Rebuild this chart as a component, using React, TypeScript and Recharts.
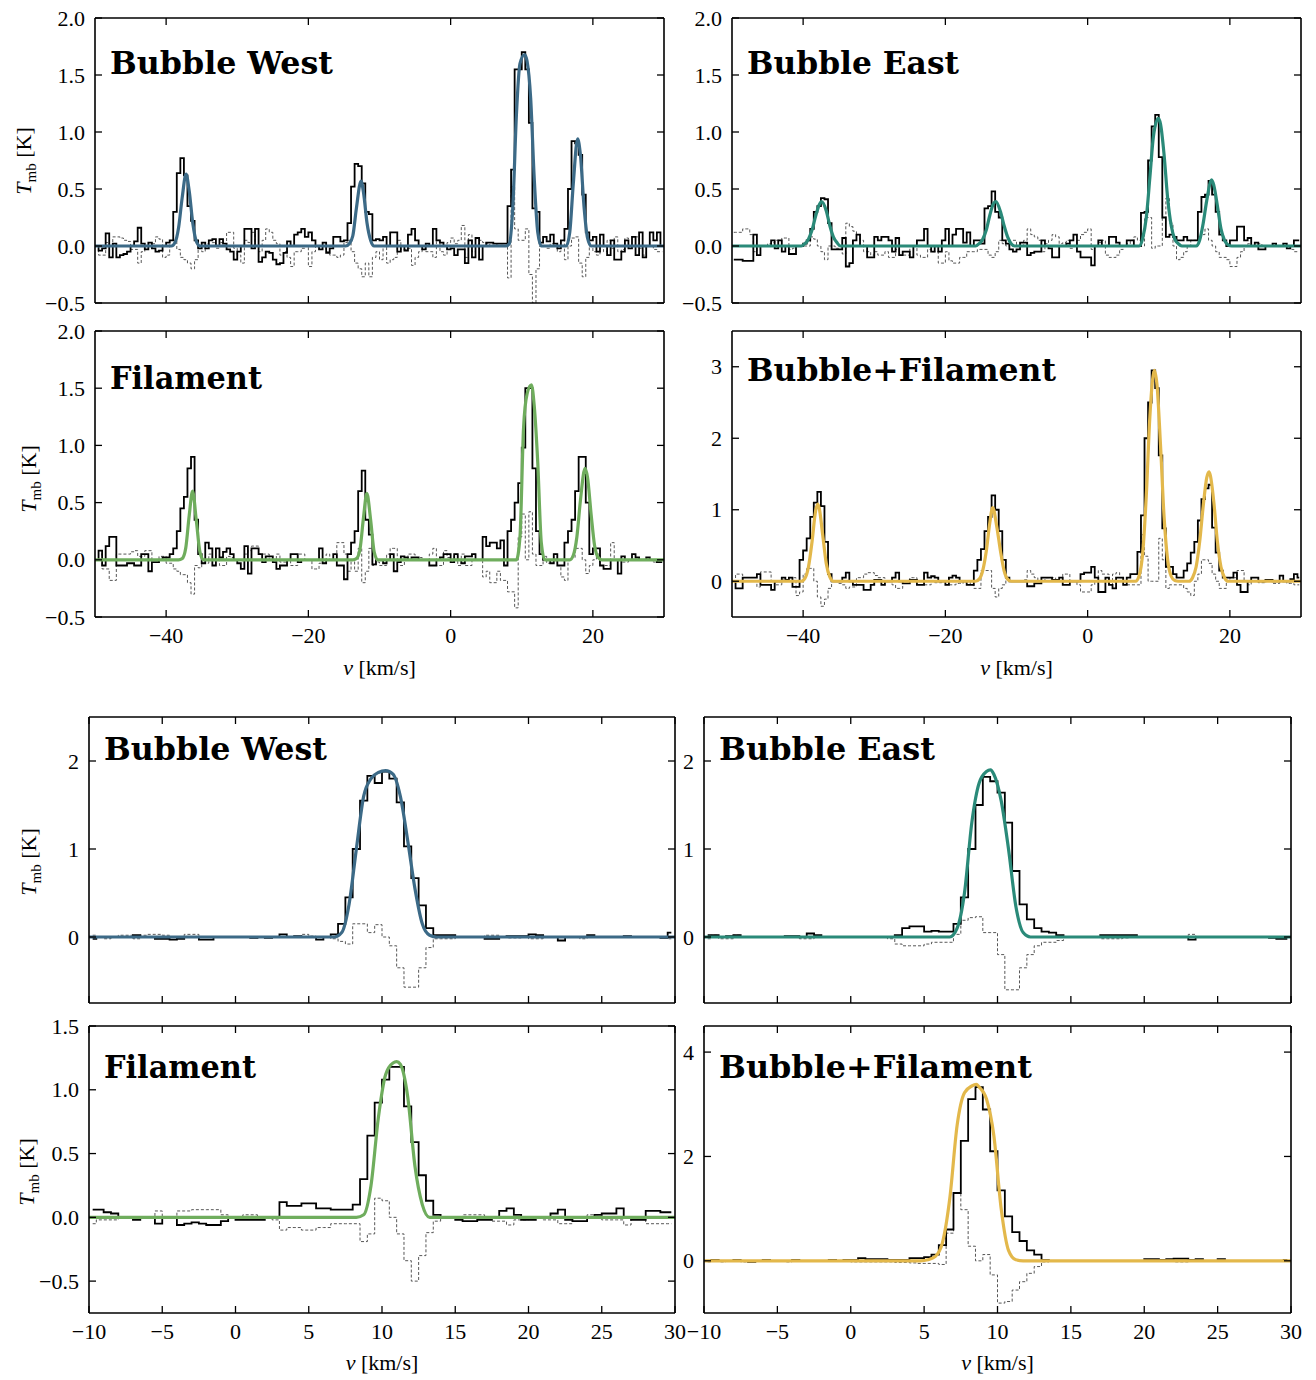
import React from "react";
import { LineChart, Line, XAxis, YAxis } from "recharts";

// channel grid, km/s
const CHAN = 0.5;
const WIDE_V0 = -49.75;
const NARROW_V0 = -9.75;

// ticks
const wideVTicks = [-40, -20, 0, 20];
const narrowVTicks = [-10, -5, 0, 5, 10, 15, 20, 25, 30];
const tmbTicksHalf = [-0.5, 0, 0.5, 1, 1.5, 2];
const tmbTicksBF = [0, 1, 2, 3];
const tmbTicksBubble = [0, 1, 2];
const tmbTicksFil = [-0.5, 0, 0.5, 1, 1.5];
const tmbTicksBFnarrow = [0, 2, 4];

// ---------- upper spectra (-50 .. 30 km/s) ----------
const westWideObs = [
  0, -0.04, -0.02, 0.11, -0.1, 0.02, -0.1, -0.08, -0.07, -0.05, 0, 0.04, 0.16, 0.02, -0.03, 0.03, -0.02, -0.05, -0.04, 0,
  0.03, 0.05, 0.3, 0.64, 0.77, 0.62, 0.35, 0.22, 0.05, -0.02, 0.03, -0.02, 0.05, 0.06, 0, 0.06, 0.02, -0.03, -0.05, -0.12,
  -0.05, 0, 0.15, 0.15, -0.02, 0.15, -0.14, -0.1, -0.05, -0.06, -0.12, -0.16, -0.15, -0.06, 0.04, 0, 0.1, 0.12, 0.15, 0.08,
  0.12, 0.05, 0, -0.03, 0.03, -0.06, -0.02, 0.08, 0.08, 0.04, 0.05, 0.2, 0.52, 0.72, 0.7, 0.55, 0.3, 0.28, 0.05, 0.06,
  0.05, 0.08, 0, 0.12, 0.12, -0.05, 0, -0.04, 0.1, 0.15, 0.05, 0, -0.03, 0.02, 0, 0.15, 0.05, 0.03, 0, -0.03,
  -0.02, -0.08, -0.03, -0.03, -0.15, 0.05, -0.1, 0.07, -0.12, 0, 0.03, 0.03, 0.02, 0.02, 0.02, 0.02, 0.35, 0.67, 1.55, 1.55,
  1.7, 1.55, 1.08, 0.33, 0.3, 0.03, 0.08, 0.04, 0.1, 0.02, -0.02, 0.05, 0.15, 0.5, 0.92, 0.9, 0.8, 0.45, 0.12, 0.05,
  0.08, -0.05, 0.1, 0, -0.08, 0.05, -0.12, -0.12, -0.05, 0.05, -0.02, 0.08, -0.08, 0.12, -0.1, 0, 0.12, 0.05, 0.12, 0,
];
const westWideRes = [
  0, -0.08, -0.08, 0.03, 0, 0.08, 0.08, 0.07, 0.05, 0.04, -0.03, -0.03, -0.15, -0.05, 0, 0, 0.02, 0.08, 0.06, -0.1,
  -0.08, 0.05, 0.05, -0.03, -0.1, -0.12, -0.15, -0.2, -0.12, 0, -0.05, 0.02, 0, 0.03, -0.02, 0.03, 0.02, 0.12, 0.12, -0.02,
  -0.08, -0.15, 0.05, 0.03, 0.12, 0, -0.05, 0.05, 0.15, 0.12, 0.05, 0.02, -0.08, -0.05, -0.1, -0.18, -0.05, -0.05, -0.02, 0,
  -0.18, -0.05, 0, -0.03, 0, -0.05, -0.08, -0.08, -0.1, -0.08, 0.03, 0.05, -0.05, -0.15, -0.2, -0.27, -0.15, -0.27, -0.1, -0.05,
  -0.12, 0, -0.15, -0.12, -0.1, 0.05, -0.03, -0.03, -0.02, -0.17, -0.1, -0.05, 0, -0.05, -0.05, -0.1, 0.05, -0.05, -0.08, 0.03,
  0.07, 0.02, 0.05, 0.18, -0.1, 0.1, -0.05, 0, 0.05, 0.03, 0.02, 0, 0, 0.02, 0.02, 0, -0.28, 0.52, 0.15, 0.05,
  0.05, 0.15, -0.25, -0.5, -0.2, 0, 0, -0.02, 0.02, 0, -0.05, 0.05, -0.12, 0, 0.07, 0.08, -0.15, -0.27, -0.1, 0,
  -0.05, -0.08, 0, -0.05, 0.05, -0.02, 0.08, -0.05, -0.03, 0.07, -0.02, 0, 0.08, -0.02, -0.08, 0, 0, -0.03, -0.05, -0.05,
];
const westWideFit = [
  [-50, 0], [-39.25, 0], [-38.75, 0.03], [-38.25, 0.16], [-37.75, 0.42], [-37.2, 0.63], [-36.75, 0.48], [-36.25, 0.2], [-35.75, 0.04], [-35.25, 0],
  [-14.75, 0], [-14.25, 0.02], [-13.75, 0.09], [-13.25, 0.33], [-12.6, 0.57], [-12.25, 0.47], [-11.75, 0.2], [-11.25, 0.05], [-10.75, 0],
  [7.75, 0], [8.25, 0.02], [8.75, 0.35], [9.25, 1.15], [9.75, 1.6], [10.4, 1.68], [10.75, 1.62], [11.25, 1.3], [11.75, 0.6], [12.25, 0.12], [12.75, 0],
  [16.25, 0], [16.75, 0.12], [17.25, 0.55], [17.85, 0.94], [18.25, 0.8], [18.75, 0.35], [19.25, 0.07], [19.75, 0], [30, 0],
];

const eastWideObs = [
  -0.12, -0.12, -0.12, -0.13, -0.13, -0.13, 0.1, -0.08, 0, 0, 0, 0.05, -0.02, 0.05, -0.05, 0, -0.07, -0.07, 0, 0,
  0.02, 0.05, 0.15, 0.3, 0.35, 0.42, 0.41, 0.2, -0.03, -0.03, -0.03, 0.07, -0.18, -0.15, 0.05, 0.1, 0, 0, -0.1, -0.1,
  0.08, 0.05, 0.08, 0.08, 0.05, -0.05, 0.07, -0.08, -0.05, -0.05, -0.1, 0, 0.05, 0.05, 0.15, 0, -0.05, 0, -0.05, 0.05,
  0.15, 0, 0.1, 0.15, 0.15, 0.03, 0.12, 0, 0.05, 0.05, 0.02, 0.33, 0.35, 0.48, 0.3, 0.25, 0.05, 0.02, -0.03, -0.05,
  -0.03, 0.03, 0.03, -0.08, -0.06, -0.05, -0.05, 0.05, 0, -0.02, -0.1, -0.1, 0, 0, 0.02, 0.05, 0.1, -0.05, -0.1, -0.1,
  -0.1, -0.17, 0, 0.05, 0, 0, 0.08, 0.08, 0.03, 0, 0, 0.05, 0.05, 0, 0, 0.29, 0.3, 0.75, 1.05, 1.15,
  0.78, 0.25, 0.08, 0.1, 0.08, 0.05, 0.05, 0.08, 0.05, 0.05, 0.05, 0.3, 0.43, 0.45, 0.57, 0.45, 0.3, 0.1, 0.05, 0,
  0.05, 0.05, 0.17, 0.17, 0.05, 0.07, 0, 0.03, -0.03, -0.03, 0, 0, 0.02, 0, 0, 0.02, -0.02, 0, 0.05, 0.05,
];
const eastWideRes = [
  0.12, 0.12, 0.12, 0.15, 0.15, 0.1, -0.05, 0, 0, 0, 0.02, 0.03, 0.05, 0.05, 0.07, 0.07, -0.03, -0.02, 0, 0,
  0, 0, 0.08, 0.06, 0, -0.05, -0.12, 0, 0, -0.02, -0.03, -0.07, 0.2, 0.17, 0.13, 0.1, 0.05, -0.05, -0.05, -0.08,
  -0.05, -0.08, -0.08, -0.05, -0.1, -0.1, -0.03, -0.08, -0.08, -0.08, 0, 0, -0.08, -0.1, -0.1, -0.03, -0.05, -0.05, -0.15, -0.15,
  -0.05, -0.13, -0.15, -0.15, -0.1, -0.1, -0.05, -0.05, -0.05, -0.03, -0.03, -0.03, -0.08, -0.1, -0.05, 0.05, 0.02, 0, 0.05, 0.05,
  0, 0, 0.05, 0.15, 0.1, 0.08, 0.05, -0.05, 0.02, 0.05, 0.1, 0.08, 0.02, 0.03, 0.05, -0.02, 0, 0.05, 0.1, 0.12,
  0.15, -0.03, 0, 0.03, 0.05, -0.08, -0.1, -0.1, -0.08, -0.03, 0, 0.02, 0.05, 0.08, 0.05, 0, 0.25, 0.25, -0.02, 0,
  0, 0.25, 0.42, 0.2, 0, -0.12, -0.1, -0.05, 0, 0.05, 0.05, 0.08, 0.1, 0.15, 0.05, 0, -0.05, -0.1, -0.1, -0.12,
  -0.18, -0.18, -0.1, -0.05, 0, 0.02, 0, 0, 0.02, 0, 0, 0, 0, 0, 0, 0, 0, -0.03, -0.05, -0.05,
];
const eastWideFit = [
  [-50, 0], [-40.25, 0], [-39.75, 0.02], [-39.25, 0.06], [-38.75, 0.14], [-38.25, 0.26], [-37.75, 0.36], [-37.4, 0.39], [-36.75, 0.31], [-36.25, 0.18], [-35.75, 0.08], [-35.25, 0.03], [-34.75, 0],
  [-15.75, 0], [-15.25, 0.02], [-14.75, 0.06], [-14.25, 0.14], [-13.75, 0.27], [-13.25, 0.37], [-12.9, 0.39], [-12.25, 0.3], [-11.75, 0.18], [-11.25, 0.08], [-10.75, 0.02], [-10.25, 0],
  [7.25, 0], [7.75, 0.07], [8.25, 0.25], [8.75, 0.6], [9.25, 0.96], [9.94, 1.12], [10.25, 1.07], [10.75, 0.8], [11.25, 0.42], [11.75, 0.18], [12.25, 0.06], [12.75, 0.02], [13.25, 0],
  [15.25, 0], [15.75, 0.05], [16.25, 0.2], [16.75, 0.4], [17.44, 0.58], [17.75, 0.53], [18.25, 0.35], [18.75, 0.15], [19.25, 0.05], [19.75, 0.01], [20.25, 0], [30, 0],
];

const filWideObs = [
  0, 0.08, -0.05, 0.12, 0.2, 0.2, -0.05, -0.05, -0.05, -0.03, -0.03, -0.05, -0.05, 0.05, 0.05, -0.1, -0.02, -0.02, 0, 0.02,
  0.02, 0.05, 0.1, 0.25, 0.45, 0.55, 0.8, 0.9, 0.35, 0.05, -0.03, 0.15, 0.1, -0.05, 0.1, 0.02, 0.07, 0.1, 0.05, 0,
  -0.03, -0.08, 0.12, -0.12, 0.1, 0.1, 0.05, -0.02, 0.03, 0.03, -0.02, -0.08, -0.05, -0.05, 0, 0.05, 0.05, -0.02, 0, 0,
  0, 0, 0, 0.1, -0.03, 0, 0, 0.05, -0.05, -0.05, -0.17, 0.05, 0.15, 0.25, 0.6, 0.78, 0.35, 0.22, -0.04, 0,
  0, -0.03, 0, 0.05, -0.1, -0.02, 0.03, 0.02, 0, 0.02, 0.02, 0, 0, 0, -0.05, -0.05, 0, 0.02, 0.05, 0.05,
  -0.02, 0.05, 0, -0.03, 0.03, 0.03, 0.05, 0, 0, 0.2, 0.12, 0.15, 0.15, 0.1, 0.17, -0.05, 0.25, 0.35, 0.5, 0.67,
  0.98, 1.5, 1.5, 0.8, 0.25, 0.05, 0, 0, -0.03, 0.05, -0.05, -0.05, 0.15, 0.25, 0.35, 0.6, 0.9, 0.9, 0.5, 0.05,
  0.1, 0.1, -0.05, -0.08, -0.08, 0, 0, -0.12, 0.03, 0, 0, 0.05, 0.02, 0, 0, 0.02, 0, 0, -0.02, -0.02,
];
const filWideRes = [
  0, 0.05, -0.08, -0.08, -0.18, -0.18, 0.05, 0.05, 0.05, 0.05, 0.07, 0.08, 0.03, 0.03, 0.08, 0.08, 0, 0, 0.03, 0.03,
  -0.03, -0.03, -0.08, -0.1, -0.13, -0.13, -0.2, -0.3, -0.05, -0.07, -0.03, -0.03, 0.05, 0, 0, -0.05, -0.05, 0.03, 0.02, 0,
  0, 0, 0.05, 0.08, 0.12, 0.12, 0.05, 0.05, 0.05, 0, 0, 0.05, -0.02, -0.02, 0, -0.05, -0.05, 0.05, 0.05, 0,
  0, -0.08, -0.08, -0.03, -0.03, 0.05, 0, 0, 0.15, 0.15, 0.05, -0.1, 0, -0.1, 0.1, -0.2, -0.1, 0.1, -0.05, -0.02,
  -0.05, -0.05, 0.05, 0.1, 0.1, -0.05, -0.05, 0, 0.05, 0.05, 0.02, 0.02, 0, 0, 0.05, 0.1, -0.05, -0.05, 0.08, 0.02,
  0, 0.05, -0.05, 0.05, -0.05, -0.05, 0.05, 0, 0, -0.15, -0.1, -0.2, -0.2, -0.1, -0.18, -0.18, -0.28, -0.28, -0.42, 0.2,
  0.4, 0, 0.42, 0.05, -0.05, -0.05, 0.03, -0.03, -0.03, 0.05, -0.05, -0.15, -0.18, 0, 0.02, 0.1, 0.1, 0, -0.12, -0.05,
  0, 0.05, -0.05, -0.05, -0.05, 0.15, 0, 0, -0.02, -0.02, 0, 0, 0, 0, 0, 0, 0, -0.02, -0.02, -0.02,
];
const filWideFit = [
  [-50, 0], [-38.25, 0], [-37.75, 0.01], [-37.25, 0.1], [-36.75, 0.39], [-36.28, 0.6], [-35.75, 0.34], [-35.25, 0.07], [-34.75, 0],
  [-13.75, 0], [-13.25, 0.01], [-12.75, 0.09], [-12.25, 0.37], [-11.78, 0.58], [-11.25, 0.35], [-10.75, 0.07], [-10.25, 0],
  [9.25, 0], [9.75, 0.2], [10.25, 1.15], [10.75, 1.45], [11.36, 1.53], [11.75, 1.35], [12.25, 0.85], [12.75, 0.15], [13.25, 0],
  [16.75, 0], [17.25, 0.04], [17.75, 0.2], [18.25, 0.52], [18.9, 0.8], [19.25, 0.72], [19.75, 0.4], [20.25, 0.12], [20.75, 0.02], [21.25, 0], [30, 0],
];

const bfWideObs = [
  0, -0.1, -0.1, 0.05, 0.05, 0.05, 0.05, 0.1, -0.05, -0.05, -0.05, -0.12, 0, 0, 0.05, 0.02, 0.05, -0.08, -0.08, 0.3,
  0.43, 0.6, 0.9, 1.1, 1.25, 1.05, 0.55, 0.1, 0, 0, 0, 0.05, 0.12, 0, -0.05, -0.05, -0.05, -0.12, -0.12, -0.05,
  0.02, 0.02, -0.05, 0, 0, 0.05, 0.12, 0, -0.03, -0.03, 0.02, 0.02, -0.05, -0.05, 0.12, 0.05, 0.07, 0.05, 0, 0,
  -0.05, 0.05, 0.08, 0.05, 0, 0, -0.05, -0.05, 0.15, 0.3, 0.45, 0.7, 0.9, 1.2, 1.0, 0.7, 0.3, 0.05, 0, 0,
  0, 0, 0, -0.07, -0.07, -0.03, -0.03, 0.05, 0.05, 0.05, 0.02, 0.02, 0.05, -0.05, -0.05, 0, 0, 0, 0.1, 0.12,
  0.12, 0.2, 0.05, -0.15, -0.15, 0.05, -0.05, -0.1, 0.05, 0.05, -0.05, 0.05, 0.1, 0.1, 0.41, 0.92, 2.0, 2.5, 2.95, 2.7,
  1.76, 0.74, 0.2, 0.2, 0.1, 0.05, 0.05, 0.15, 0.25, 0.4, 0.55, 0.85, 1.15, 1.3, 1.35, 0.75, 0.4, 0.15, 0.05, 0.05,
  0.05, 0.12, -0.05, -0.15, -0.15, 0, 0.05, 0.05, 0, 0, 0.02, 0.02, 0, 0, 0.08, 0, 0, 0.03, 0.1, 0.05,
];
const bfWideRes = [
  0, 0.1, 0.1, 0, 0, 0, 0, -0.08, 0.13, 0.13, 0.13, 0, -0.05, -0.05, 0.02, 0.02, 0.05, 0.05, -0.2, -0.15,
  0.1, 0.18, 0.18, 0, -0.22, -0.35, -0.25, -0.1, 0, 0, -0.03, -0.05, -0.1, -0.08, -0.08, 0.05, 0.05, 0.1, 0.12, 0.12,
  0.08, 0.05, 0.05, 0, 0, -0.05, -0.1, -0.1, 0, 0, 0.05, 0.05, 0, 0, -0.05, -0.05, 0, -0.02, -0.02, 0,
  0, -0.05, -0.05, -0.03, -0.03, 0, 0, -0.05, -0.1, -0.1, 0.15, 0.15, 0.15, -0.1, -0.22, -0.1, -0.05, 0.02, 0, 0,
  0, 0, 0.02, 0.15, 0.1, 0.05, 0, 0, 0.05, 0.05, 0.05, 0, 0, 0.1, 0.1, 0, 0, -0.05, -0.15, -0.15,
  -0.15, -0.05, 0, 0.15, 0.1, 0.1, -0.05, 0.1, 0.12, 0.05, 0, -0.05, -0.05, -0.05, -0.05, 0.65, 0.35, 0, 0, 0,
  0.6, 0.3, -0.1, -0.05, -0.05, -0.05, -0.05, -0.1, -0.15, -0.2, 0, 0.1, 0.3, 0.3, 0.25, 0.1, 0, -0.1, -0.1, 0,
  0.05, 0.05, 0.15, 0.15, 0, -0.05, 0, 0, -0.02, -0.02, 0, 0, -0.03, -0.03, 0, 0, -0.03, -0.03, -0.05, -0.05,
];
const bfWideFit = [
  [-50, 0], [-40.25, 0], [-39.75, 0.04], [-39.25, 0.2], [-38.75, 0.55], [-38.25, 0.98], [-37.96, 1.08], [-37.75, 1.03], [-37.25, 0.65], [-36.75, 0.25], [-36.25, 0.06], [-35.75, 0],
  [-15.75, 0], [-15.25, 0.03], [-14.75, 0.15], [-14.25, 0.42], [-13.75, 0.82], [-13.35, 1.03], [-12.75, 0.75], [-12.25, 0.42], [-11.75, 0.15], [-11.25, 0.03], [-10.75, 0],
  [6.75, 0], [7.25, 0.08], [7.75, 0.4], [8.25, 1.2], [8.75, 2.3], [9.38, 2.95], [9.75, 2.75], [10.25, 1.9], [10.75, 0.9], [11.25, 0.3], [11.75, 0.07], [12.25, 0.01], [12.75, 0],
  [14.25, 0], [14.75, 0.05], [15.25, 0.2], [15.75, 0.55], [16.25, 1.05], [16.75, 1.45], [17.07, 1.53], [17.25, 1.48], [17.75, 1.1], [18.25, 0.55], [18.75, 0.2], [19.25, 0.05], [19.75, 0], [30, 0],
];

// ---------- lower spectra (-10 .. 30 km/s) ----------
const westNarrowObs = [
  -0.02, 0, 0, 0, 0, 0, 0.02, 0, 0, -0.02, -0.02, -0.03, -0.02, 0, 0, -0.03, -0.03, 0, 0, 0,
  0, 0, -0.01, 0, -0.01, 0, 0.03, 0, 0.01, 0, 0, -0.03, 0, 0.03, 0.15, 0.45, 1.0, 1.55, 1.83, 1.75,
  1.88, 1.8, 1.53, 1.03, 0.67, 0.36, 0.1, 0.02, 0.02, 0.02, 0, 0, 0, 0, -0.02, -0.02, 0, 0.01, 0.01, 0.01,
  0.03, 0.02, 0, 0, -0.04, 0, 0, 0, 0.02, 0, 0, 0, 0, 0.01, 0, 0, 0, 0, -0.01, 0.05,
];
const westNarrowRes = [
  0.02, 0, -0.02, 0, 0.02, 0.02, -0.02, 0.02, 0.03, 0.03, 0.02, 0, 0, 0.03, 0.03, 0, 0, 0, 0, 0,
  0, 0, 0, 0, 0, 0, 0, 0, 0, 0.03, 0.01, 0, 0, -0.02, -0.05, -0.08, 0.15, 0.15, 0.05, 0.14,
  0, -0.1, -0.35, -0.57, -0.57, -0.35, -0.12, -0.02, -0.02, -0.02, 0, 0, 0, 0, 0.02, 0.02, 0, -0.01, -0.01, 0,
  -0.02, -0.02, 0, 0, 0, 0, 0, -0.02, 0, 0, 0, 0, 0, 0, 0, 0, 0, 0, 0, -0.02,
];
const westNarrowFit = [
  [-10, 0], [6.75, 0], [7.25, 0.05], [7.75, 0.37], [8.25, 1.0], [8.75, 1.6], [9.25, 1.8], [9.75, 1.87], [10.25, 1.89], [10.75, 1.85],
  [11.25, 1.6], [11.75, 1.1], [12.25, 0.55], [12.75, 0.15], [13.25, 0.02], [13.75, 0], [30, 0],
];

const eastNarrowObs = [
  0.02, 0.02, 0, 0.01, 0.02, 0, 0, 0, 0, 0, 0, 0.01, 0.01, 0, 0.04, 0.02, 0, 0, 0, 0,
  0, 0, 0, 0, 0, 0, 0.02, 0.1, 0.12, 0.12, 0.06, 0.07, 0.06, 0.06, 0.15, 0.45, 1.0, 1.5, 1.82, 1.77,
  1.64, 1.3, 0.75, 0.37, 0.2, 0.1, 0.06, 0.05, 0.02, 0, 0, 0, 0, 0, 0.02, 0.02, 0.02, 0.02, 0.02, 0,
  0, 0, 0, 0, 0, 0, -0.03, 0, 0, 0, 0, 0, 0, 0, 0, 0, 0, -0.01, -0.02, -0.02,
];
const eastNarrowRes = [
  -0.02, 0.02, -0.02, -0.02, 0.02, 0, 0, 0, 0, 0, 0, 0, 0, -0.02, -0.02, 0, 0, 0, 0, 0,
  0, 0, 0, 0, 0, -0.02, -0.08, -0.1, -0.1, -0.1, -0.08, -0.06, -0.06, -0.06, 0.03, 0.19, 0.22, 0.23, 0.05, 0.05,
  -0.2, -0.6, -0.6, -0.35, -0.2, -0.1, -0.06, -0.06, -0.04, 0, 0, 0, 0, 0, -0.02, -0.02, -0.02, -0.01, 0, 0,
  0, 0, 0, 0, 0, 0, 0.03, 0, 0, 0, 0, 0, 0, 0, 0, 0, 0, 0, 0, 0,
];
const eastNarrowFit = [
  [-10, 0], [6.75, 0], [7.25, 0.1], [7.75, 0.5], [8.25, 1.3], [8.75, 1.75], [9.25, 1.88], [9.52, 1.9], [9.75, 1.85], [10.25, 1.55],
  [10.75, 1.0], [11.25, 0.35], [11.75, 0.05], [12.25, 0], [30, 0],
];

const filNarrowObs = [
  0.06, 0.06, 0.04, 0.03, 0, 0, -0.02, 0, 0, -0.05, 0, 0, -0.06, -0.05, -0.04, -0.05, -0.06, -0.06, -0.03, 0,
  -0.02, -0.02, -0.02, -0.02, 0, 0, 0.12, 0.09, 0.09, 0.11, 0.11, 0.07, 0.07, 0.06, 0.06, 0.06, 0.1, 0.3, 0.64, 0.9,
  1.08, 1.18, 1.18, 0.87, 0.59, 0.33, 0.13, 0.02, 0, 0, -0.02, -0.03, -0.03, -0.02, -0.02, 0, 0.05, 0.07, 0.02, -0.02,
  -0.02, 0, 0, 0.03, 0.06, -0.02, -0.03, -0.03, 0, 0.02, 0.03, 0.03, 0.07, 0, -0.02, -0.02, 0.05, 0.05, 0.04, 0.04,
];
const filNarrowRes = [
  -0.05, -0.02, -0.02, -0.02, 0, 0, 0, 0, 0, 0.05, 0, 0, 0.05, 0.05, 0.06, 0.06, 0.06, 0.06, 0.02, 0,
  0, 0.02, 0.02, 0, 0, -0.02, -0.1, -0.08, -0.08, -0.1, -0.1, -0.08, -0.08, -0.05, -0.05, -0.05, -0.05, -0.19, -0.13, 0.15,
  0.13, 0, -0.13, -0.34, -0.5, -0.3, -0.12, -0.03, 0, 0, 0, 0.02, 0.02, 0.02, -0.01, -0.03, -0.03, -0.06, -0.02, -0.02,
  0, 0, -0.02, -0.02, -0.05, -0.05, 0, 0, 0.02, 0.02, -0.02, -0.02, -0.02, -0.06, 0, 0, -0.05, -0.05, -0.05, -0.05,
];
const filNarrowFit = [
  [-10, 0], [8.25, 0], [8.75, 0.02], [9.25, 0.25], [9.75, 0.78], [10.25, 1.12], [10.75, 1.21], [11.0, 1.22], [11.25, 1.2],
  [11.75, 0.95], [12.25, 0.4], [12.75, 0.1], [13.25, 0], [30, 0],
];

const bfNarrowObs = [
  0, 0.02, 0, 0, 0.02, 0, -0.02, 0, 0.02, 0, 0, 0, 0.02, 0, 0, 0, 0, 0.02, 0, 0.02,
  0.02, 0.05, 0.03, 0.03, 0.03, 0.02, 0.02, 0.02, 0.05, 0.05, 0.07, 0.12, 0.3, 0.6, 1.3, 2.3, 3.1, 3.33, 2.9, 2.1,
  1.35, 0.85, 0.55, 0.38, 0.2, 0.12, 0.02, 0, 0, 0, 0, 0, 0, 0, 0, 0, 0, 0, 0, 0,
  0.03, 0.03, 0.02, 0.03, 0.04, 0.04, 0.02, 0.03, 0, 0, 0.03, 0, 0, 0, 0, 0, 0, 0, 0, 0.02,
];
const bfNarrowRes = [
  -0.02, 0, -0.02, 0, 0, -0.02, 0, 0, 0, 0, 0, -0.02, 0, 0, 0, 0, 0, 0, 0, 0,
  -0.02, -0.02, -0.02, -0.02, -0.02, -0.02, -0.03, -0.03, -0.04, -0.05, -0.05, -0.05, -0.07, 0.53, 1.29, 0.98, 0.28, 0, 0.12, -0.27,
  -0.81, -0.78, -0.56, -0.4, -0.24, -0.11, -0.02, 0, 0, 0, 0, 0, 0, 0, 0, 0, 0, 0, 0, 0,
  0, 0, 0, 0, -0.02, -0.02, 0, 0, 0, 0, 0, 0, 0, 0, 0, 0, 0, 0, 0, 0,
];
const bfNarrowFit = [
  [-10, 0], [4.75, 0], [5.25, 0.02], [5.75, 0.08], [6.25, 0.35], [6.75, 1.2], [7.25, 2.6], [7.75, 3.22], [8.25, 3.35], [8.55, 3.38],
  [8.75, 3.33], [9.25, 3.1], [9.75, 2.4], [10.25, 1.0], [10.75, 0.2], [11.25, 0.02], [11.75, 0], [30, 0],
];

// ---------- styling ----------
const WEST = "#3c6a87";
const EAST = "#2a8a79";
const FIL = "#6fad5d";
const BF = "#e3b84b";

const PAD = { l: 70, r: 16, t: 24, b: 40 };
const AX = 1; // thickness reserved by each axis box (must be > 0 or Recharts skips the axis)
const TICK_LEN = 7;
const serif = "'Liberation Serif', 'Times New Roman', serif";
const tickFont = { fontFamily: serif, fontSize: 22, fill: "#000" };
const frame = { stroke: "#000", strokeWidth: 1.6 };

const minus = (s: string) => s.replace("-", "\u2212");

function tickMark(side: "bottom" | "top" | "left" | "right", fmt?: (v: number) => string) {
  return (p: any) => {
    const { x, y, payload } = p;
    const v = payload.value as number;
    if (side === "bottom") {
      return (
        <g>
          <line x1={x} y1={y} x2={x} y2={y - TICK_LEN} stroke="#000" strokeWidth={1.3} />
          {fmt ? (
            <text x={x} y={y + 26} textAnchor="middle" {...tickFont}>
              {fmt(v)}
            </text>
          ) : null}
        </g>
      );
    }
    if (side === "top") {
      return <line x1={x} y1={y} x2={x} y2={y + TICK_LEN} stroke="#000" strokeWidth={1.3} />;
    }
    if (side === "left") {
      return (
        <g>
          <line x1={x} y1={y} x2={x + TICK_LEN} y2={y} stroke="#000" strokeWidth={1.3} />
          <text x={x - 10} y={y + 7.5} textAnchor="end" {...tickFont}>
            {fmt ? fmt(v) : ""}
          </text>
        </g>
      );
    }
    return <line x1={x} y1={y} x2={x - TICK_LEN} y2={y} stroke="#000" strokeWidth={1.3} />;
  };
}

const toRows = (vals: number[], v0: number) => vals.map((t, i) => ({ v: v0 + i * CHAN, t }));
const fitRows = (pts: number[][]) => pts.map(([v, t]) => ({ v, t }));

type PanelDef = {
  box: [number, number, number, number];
  xDomain: [number, number];
  xTicks: number[];
  xLabels: boolean;
  yDomain: [number, number];
  yTicks: number[];
  yDigits: number;
  v0: number;
  obs: number[];
  res: number[];
  fit: number[][];
  color: string;
};

const WIDE: [number, number] = [-50, 30];
const NARROW: [number, number] = [-10, 30];

const panels: PanelDef[] = [
  { box: [95, 18, 664, 303], xDomain: WIDE, xTicks: wideVTicks, xLabels: false, yDomain: [-0.5, 2], yTicks: tmbTicksHalf, yDigits: 1, v0: WIDE_V0, obs: westWideObs, res: westWideRes, fit: westWideFit, color: WEST },
  { box: [732, 18, 1301, 303], xDomain: WIDE, xTicks: wideVTicks, xLabels: false, yDomain: [-0.5, 2], yTicks: tmbTicksHalf, yDigits: 1, v0: WIDE_V0, obs: eastWideObs, res: eastWideRes, fit: eastWideFit, color: EAST },
  { box: [95, 331, 664, 617], xDomain: WIDE, xTicks: wideVTicks, xLabels: true, yDomain: [-0.5, 2], yTicks: tmbTicksHalf, yDigits: 1, v0: WIDE_V0, obs: filWideObs, res: filWideRes, fit: filWideFit, color: FIL },
  { box: [732, 331, 1301, 617], xDomain: WIDE, xTicks: wideVTicks, xLabels: true, yDomain: [-0.5, 3.5], yTicks: tmbTicksBF, yDigits: 0, v0: WIDE_V0, obs: bfWideObs, res: bfWideRes, fit: bfWideFit, color: BF },
  { box: [89, 717, 675, 1003], xDomain: NARROW, xTicks: narrowVTicks, xLabels: false, yDomain: [-0.75, 2.5], yTicks: tmbTicksBubble, yDigits: 0, v0: NARROW_V0, obs: westNarrowObs, res: westNarrowRes, fit: westNarrowFit, color: WEST },
  { box: [704, 717, 1291, 1003], xDomain: NARROW, xTicks: narrowVTicks, xLabels: false, yDomain: [-0.75, 2.5], yTicks: tmbTicksBubble, yDigits: 0, v0: NARROW_V0, obs: eastNarrowObs, res: eastNarrowRes, fit: eastNarrowFit, color: EAST },
  { box: [89, 1026, 675, 1313], xDomain: NARROW, xTicks: narrowVTicks, xLabels: true, yDomain: [-0.75, 1.5], yTicks: tmbTicksFil, yDigits: 1, v0: NARROW_V0, obs: filNarrowObs, res: filNarrowRes, fit: filNarrowFit, color: FIL },
  { box: [704, 1026, 1291, 1313], xDomain: NARROW, xTicks: narrowVTicks, xLabels: true, yDomain: [-1, 4.5], yTicks: tmbTicksBFnarrow, yDigits: 0, v0: NARROW_V0, obs: bfNarrowObs, res: bfNarrowRes, fit: bfNarrowFit, color: BF },
];

const titles = [
  { label: "Bubble West", x: 110, y: 74, w: 223 },
  { label: "Bubble East", x: 747, y: 74, w: 212 },
  { label: "Filament", x: 110, y: 389, w: 152 },
  { label: "Bubble+Filament", x: 747, y: 381, w: 309 },
  { label: "Bubble West", x: 104, y: 760, w: 223 },
  { label: "Bubble East", x: 719, y: 760, w: 216 },
  { label: "Filament", x: 104, y: 1078, w: 152 },
  { label: "Bubble+Filament", x: 719, y: 1078, w: 313 },
];
const yTitlePos = [[31, 161], [36, 479], [36, 862], [34, 1172]];
const xTitlePos = [[379.5, 675], [1016.5, 675], [382, 1370], [997.5, 1370]];

const Panel: React.FC<{ def: PanelDef }> = ({ def }) => {
  const [left, top, right, bottom] = def.box;
  const w = right - left;
  const h = bottom - top;
  const fmtY = (v: number) => minus(v.toFixed(def.yDigits));
  const fmtX = (v: number) => minus(String(v));
  return (
    <div style={{ position: "absolute", left: left - PAD.l, top: top - PAD.t }}>
      <LineChart
        width={w + PAD.l + PAD.r}
        height={h + PAD.t + PAD.b}
        margin={{ top: PAD.t - AX, right: PAD.r - AX, bottom: PAD.b - AX, left: PAD.l - AX }}
      >
        <XAxis
          xAxisId="b"
          type="number"
          dataKey="v"
          domain={def.xDomain}
          ticks={def.xTicks}
          interval={0}
          allowDataOverflow
          height={AX}
          tickSize={0}
          tickMargin={0}
          tickLine={false}
          axisLine={frame}
          tick={tickMark("bottom", def.xLabels ? fmtX : undefined)}
        />
        <XAxis
          xAxisId="t"
          orientation="top"
          type="number"
          dataKey="v"
          domain={def.xDomain}
          ticks={def.xTicks}
          interval={0}
          allowDataOverflow
          height={AX}
          tickSize={0}
          tickMargin={0}
          tickLine={false}
          axisLine={frame}
          tick={tickMark("top")}
        />
        <YAxis
          yAxisId="l"
          type="number"
          domain={def.yDomain}
          ticks={def.yTicks}
          interval={0}
          allowDataOverflow
          width={AX}
          tickSize={0}
          tickMargin={0}
          tickLine={false}
          axisLine={frame}
          tick={tickMark("left", fmtY)}
        />
        <YAxis
          yAxisId="r"
          orientation="right"
          type="number"
          domain={def.yDomain}
          ticks={def.yTicks}
          interval={0}
          allowDataOverflow
          width={AX}
          tickSize={0}
          tickMargin={0}
          tickLine={false}
          axisLine={frame}
          tick={tickMark("right")}
        />
        <Line
          xAxisId="b"
          yAxisId="l"
          data={toRows(def.res, def.v0)}
          dataKey="t"
          type="step"
          stroke="#444"
          strokeWidth={0.9}
          strokeDasharray="3 2"
          dot={false}
          activeDot={false}
          isAnimationActive={false}
        />
        <Line
          xAxisId="b"
          yAxisId="l"
          data={toRows(def.obs, def.v0)}
          dataKey="t"
          type="step"
          stroke="#000"
          strokeWidth={1.8}
          dot={false}
          activeDot={false}
          isAnimationActive={false}
        />
        <Line
          xAxisId="b"
          yAxisId="l"
          data={fitRows(def.fit)}
          dataKey="t"
          type="monotone"
          stroke={def.color}
          strokeWidth={3.2}
          dot={false}
          activeDot={false}
          isAnimationActive={false}
        />
      </LineChart>
    </div>
  );
};

export default function App() {
  return (
    <div style={{ position: "absolute", left: 0, top: 0, width: 1316, height: 1380, background: "#fff", overflow: "hidden" }}>
      {panels.map((p, i) => (
        <Panel key={i} def={p} />
      ))}
      <svg
        width={1316}
        height={1380}
        style={{ position: "absolute", left: 0, top: 0, pointerEvents: "none" }}
      >
        {titles.map((t, i) => (
          <text
            key={"t" + i}
            x={t.x}
            y={t.y}
            textLength={t.w}
            lengthAdjust="spacingAndGlyphs"
            fontFamily="'DejaVu Serif', serif"
            fontWeight={700}
            fontSize={31}
            fill="#000"
          >
            {t.label}
          </text>
        ))}
        {yTitlePos.map(([x, y], i) => (
          <text
            key={"y" + i}
            x={x}
            y={y}
            transform={`rotate(-90 ${x} ${y})`}
            textAnchor="middle"
            fontFamily={serif}
            fontSize={22}
            fill="#000"
          >
            <tspan fontStyle="italic">T</tspan>
            <tspan fontSize={15} dy={5}>mb</tspan>
            <tspan dy={-5}>{"\u00a0[K]"}</tspan>
          </text>
        ))}
        {xTitlePos.map(([x, y], i) => (
          <text key={"x" + i} x={x} y={y} textAnchor="middle" fontFamily={serif} fontSize={22} fill="#000">
            <tspan fontStyle="italic">v</tspan>
            <tspan>{"\u00a0[km/s]"}</tspan>
          </text>
        ))}
      </svg>
    </div>
  );
}
